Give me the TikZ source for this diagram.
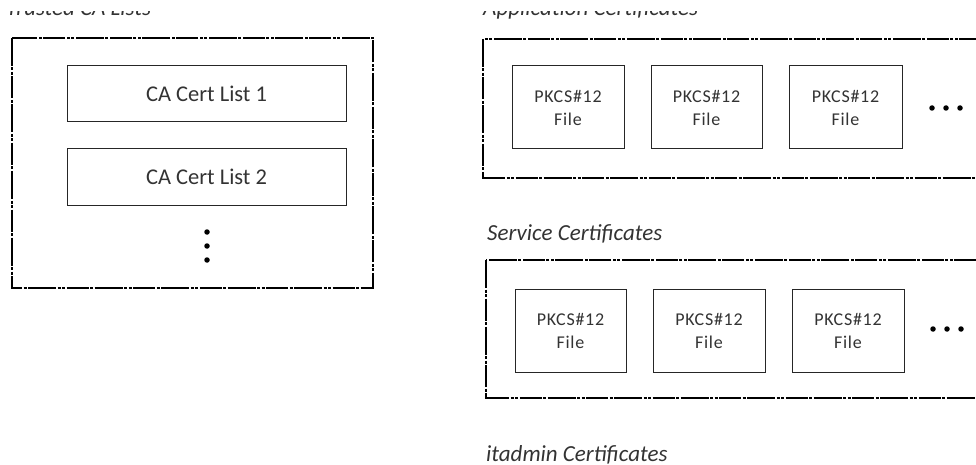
\documentclass[tikz,border=0pt]{standalone}
\usepackage{fontspec}
\setmainfont{Carlito}
\begin{document}
\begin{tikzpicture}[x=1pt,y=-1pt,
  outer/.style={draw=black,line width=2.4pt,dash pattern=on 28pt off 1.5pt on 3pt off 1.5pt on 3pt off 1.5pt on 22pt off 1.5pt on 3pt off 1.5pt},
  item/.style={draw=black!85,line width=1pt},
  lbl/.style={font=\fontsize{23}{26}\selectfont\itshape,text=black!80,anchor=base west,inner sep=0pt},
  catxt/.style={font=\fontsize{22.5}{26}\selectfont,text=black!80},
  pk/.style={font=\fontsize{18}{23}\selectfont\addfontfeature{LetterSpace=4},text=black!80,align=center},
  dot/.style={fill=black,circle,inner sep=0pt,minimum size=5.5pt}]
\useasboundingbox (0,0) rectangle (976,465);
\clip (0,0) rectangle (976,465);
% labels
\node[lbl] (l1) at (6,16) {Trusted CA Lists};
\node[lbl] (l2) at (483,16) {Application Certificates};
\fill[white] (0,0) rectangle (976,11);
\node[lbl] (l3) at (487,240) {Service Certificates};
\node[lbl] (l4) at (486,461) {itadmin Certificates};
% left box
\draw[outer] (12,38) rectangle (373,288);
\draw[item] (67,66) rectangle (346,122);
\node[catxt] (c1) at (206.5,94) {CA Cert List 1};
\draw[item] (67,149) rectangle (346,205);
\node[catxt] (c2) at (206.5,177) {CA Cert List 2};
\node[dot] (d1) at (207,232) {};
\node[dot] (d2) at (207,246) {};
\node[dot] (d3) at (207,260) {};
% application box
\draw[outer,line width=2pt] (483,39) rectangle (995,178);
\foreach \a/\b [count=\i] in {512/624,651/762,789/902}{
  \draw[item] (\a,66) rectangle (\b,149);
  \node[pk] (a\i) at ({(\a+\b)/2},108) {PKCS\#12\\File};
}
\node[dot] (ad1) at (932,108) {};
\node[dot] (ad2) at (946,108) {};
\node[dot] (ad3) at (960,108) {};
% service box
\draw[outer,line width=2pt] (486,260) rectangle (995,398);
\foreach \a/\b [count=\i] in {515/626,653/765,792/904}{
  \draw[item] (\a,289) rectangle (\b,372);
  \node[pk] (s\i) at ({(\a+\b)/2},331) {PKCS\#12\\File};
}
\node[dot] (sd1) at (933,329) {};
\node[dot] (sd2) at (947,329) {};
\node[dot] (sd3) at (961,329) {};
\end{tikzpicture}
\end{document}
